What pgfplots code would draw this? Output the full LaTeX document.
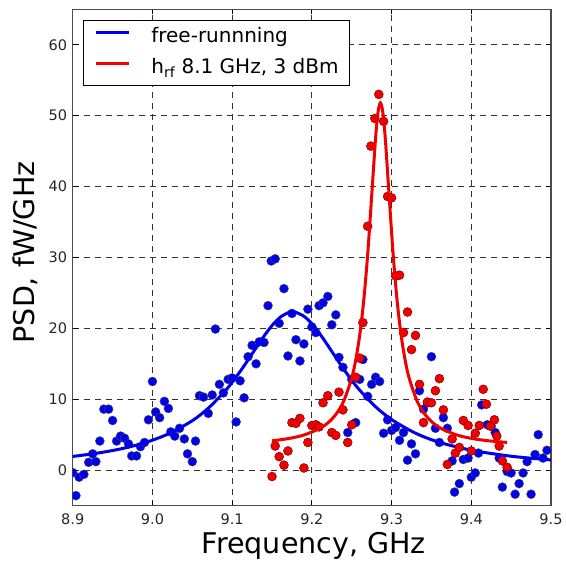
\documentclass[border=0pt]{standalone}
\usepackage{fontspec}
\setmainfont{DejaVu Sans}
\usepackage{pgfplots}
\pgfplotsset{compat=1.18}
\definecolor{mblue}{RGB}{0,0,235}
\definecolor{mred}{RGB}{240,0,0}

\begin{document}
\begin{tikzpicture}
\begin{axis}[
    scale only axis,
    width=478pt, height=496pt,
    xmin=8.9, xmax=9.5, ymin=-5, ymax=65,
    xtick={8.9,9.0,9.1,9.2,9.3,9.4,9.5},
    ytick={0,10,20,30,40,50,60},
    x tick label style={/pgf/number format/fixed, /pgf/number format/fixed zerofill,
        /pgf/number format/precision=1, yshift=-5pt},
    y tick label style={xshift=-2pt},
    /pgf/number format/assume math mode=true,
    tick label style={font=\fontsize{14.5}{17}\selectfont, text=black!85},
    tick align=inside,
    major tick length=5pt,
    tick style={black, line width=0.8pt},
    axis line style={black!70, line width=1.2pt},
    grid=major,
    major grid style={black!80, line width=0.8pt, dash pattern=on 6pt off 5pt},
    xlabel={Frequency, GHz},
    ylabel={PSD, fW/GHz},
    every axis x label/.style={at={(rel axis cs:0.5,0)}, anchor=base, yshift=-48pt, xshift=2pt,
        font=\fontsize{28.5}{32}\selectfont},
    every axis y label/.style={at={(rel axis cs:0,0.5)}, xshift=-47pt, yshift=5pt, rotate=90, anchor=center,
        font=\fontsize{28.5}{32}\selectfont},
    clip marker paths=true,
    legend style={at={(0.021,0.978)}, anchor=north west, draw=black, line width=1pt,
        font=\fontsize{20}{24}\selectfont, row sep=12pt, column sep=21pt,
        inner xsep=11pt, inner ysep=7pt,
        nodes={inner sep=0pt, text height=14.5pt, text depth=5pt}},
    legend cell align=left,
    legend image code/.code={\draw[line width=3pt] (0pt,5pt) -- (33pt,5pt);},
]
% free-running: measured points
\addplot[only marks, mark=*, mark size=4.5pt, mark options={fill=mblue, draw=black!70, line width=0.4pt}, forget plot]
table {
8.900 -0.35
8.904 -3.6
8.908 -1.0
8.914 -0.6
8.920 1.1
8.925 2.3
8.929 1.2
8.934 4.1
8.939 8.6
8.945 8.6
8.950 7.0
8.955 4.1
8.960 4.8
8.965 4.5
8.970 3.7
8.974 2.0
8.980 2.0
8.985 3.3
8.990 3.9
8.995 7.1
9.000 12.5
9.004 8.2
9.009 7.4
9.015 9.7
9.020 8.7
9.023 5.4
9.028 4.8
9.034 5.9
9.040 4.4
9.044 2.3
9.050 1.2
9.054 4.1
9.059 10.5
9.064 10.3
9.070 8.0
9.075 10.6
9.079 19.9
9.084 12.1
9.089 10.9
9.095 12.8
9.100 13.0
9.105 6.8
9.110 12.6
9.115 10.2
9.120 16.0
9.125 17.6
9.130 15.0
9.134 18.1
9.140 18.0
9.145 23.2
9.149 29.5
9.154 29.8
9.159 20.7
9.165 25.6
9.170 16.1
9.175 22.1
9.180 18.4
9.185 15.4
9.190 17.8
9.195 22.7
9.200 20.2
9.205 19.4
9.209 23.2
9.214 23.6
9.220 24.5
9.225 20.5
9.230 21.9
9.234 15.9
9.239 14.5
9.245 5.3
9.250 12.8
9.255 6.7
9.260 12.8
9.264 15.6
9.270 10.4
9.275 12.1
9.280 13.1
9.285 12.5
9.290 5.2
9.295 7.1
9.300 5.6
9.305 6.0
9.310 4.2
9.315 5.3
9.320 1.4
9.325 3.7
9.330 2.3
9.335 11.2
9.340 8.6
9.345 9.5
9.350 16.0
9.355 5.9
9.360 3.9
9.365 7.4
9.370 5.9
9.376 1.3
9.379 -3.1
9.385 -1.9
9.390 1.5
9.396 1.7
9.400 -1.0
9.405 -0.4
9.409 2.4
9.413 9.2
9.420 6.4
9.425 6.2
9.430 5.3
9.435 1.7
9.439 -2.4
9.445 -0.2
9.450 -0.4
9.455 -3.4
9.460 -1.9
9.465 -0.4
9.470 1.2
9.475 -3.4
9.480 2.2
9.484 5.0
9.490 1.7
9.495 2.8
};
% free-running: fitted curve
\addplot[mblue, line width=3pt, smooth] table {
8.900 1.93
8.930 2.38
8.960 2.99
8.990 3.85
9.020 5.11
9.050 6.97
9.070 8.73
9.090 11.02
9.100 12.39
9.110 13.91
9.120 15.55
9.130 17.25
9.140 18.91
9.150 20.39
9.160 21.54
9.170 22.19
9.176 22.30
9.180 22.25
9.190 21.71
9.200 20.65
9.210 19.22
9.220 17.59
9.230 15.89
9.240 14.23
9.250 12.68
9.260 11.28
9.280 8.93
9.300 7.13
9.330 5.21
9.360 3.92
9.400 2.81
9.450 1.96
9.500 1.44
};
\addlegendentry{free-runnning}
% injection-locked: measured points
\addplot[only marks, mark=*, mark size=4.5pt, mark options={fill=mred, draw=black!60!red, line width=0.4pt}, forget plot]
table {
9.150 -0.9
9.154 3.4
9.159 1.9
9.165 0.7
9.170 2.7
9.175 6.7
9.180 6.6
9.185 7.3
9.190 0.3
9.195 3.9
9.200 6.3
9.205 6.4
9.209 6.1
9.214 9.5
9.220 10.5
9.225 5.3
9.230 4.9
9.234 11.0
9.239 8.5
9.245 3.9
9.250 6.4
9.255 13.1
9.260 15.8
9.264 20.8
9.270 34.4
9.274 45.7
9.279 49.6
9.284 53.0
9.290 49.2
9.295 38.6
9.300 38.4
9.305 27.4
9.310 27.5
9.315 19.4
9.320 22.3
9.325 17.0
9.330 19.0
9.335 12.1
9.340 6.7
9.345 9.6
9.350 9.5
9.355 11.2
9.360 12.9
9.365 8.5
9.370 0.8
9.376 4.4
9.380 2.4
9.385 3.2
9.390 7.0
9.396 6.3
9.400 2.7
9.405 5.2
9.410 6.3
9.415 11.4
9.419 9.3
9.424 6.2
9.429 7.1
9.432 4.8
9.435 3.4
9.439 1.3
9.445 0.4
};
% injection-locked: fitted curve
\addplot[mred, line width=3pt, smooth] table {
9.150 4.13
9.170 4.44
9.190 4.95
9.210 5.88
9.220 6.66
9.230 7.84
9.240 9.74
9.250 13.00
9.255 15.53
9.260 19.02
9.265 23.84
9.270 30.39
9.275 38.61
9.280 46.95
9.283 50.49
9.286 51.80
9.289 50.49
9.292 46.95
9.297 38.61
9.302 30.39
9.307 23.84
9.312 19.02
9.317 15.53
9.322 13.00
9.332 9.74
9.342 7.84
9.352 6.66
9.362 5.88
9.382 4.95
9.402 4.44
9.422 4.13
9.445 3.91
};
\addlegendentry{h\textsubscript{rf} 8.1 GHz, 3 dBm}
\end{axis}
\pgfresetboundingbox
\path[use as bounding box] ([xshift=-72.7pt,yshift=-55pt]current axis.south west)
    rectangle ([xshift=15pt,yshift=9.3pt]current axis.north east);
\end{tikzpicture}
\end{document}
